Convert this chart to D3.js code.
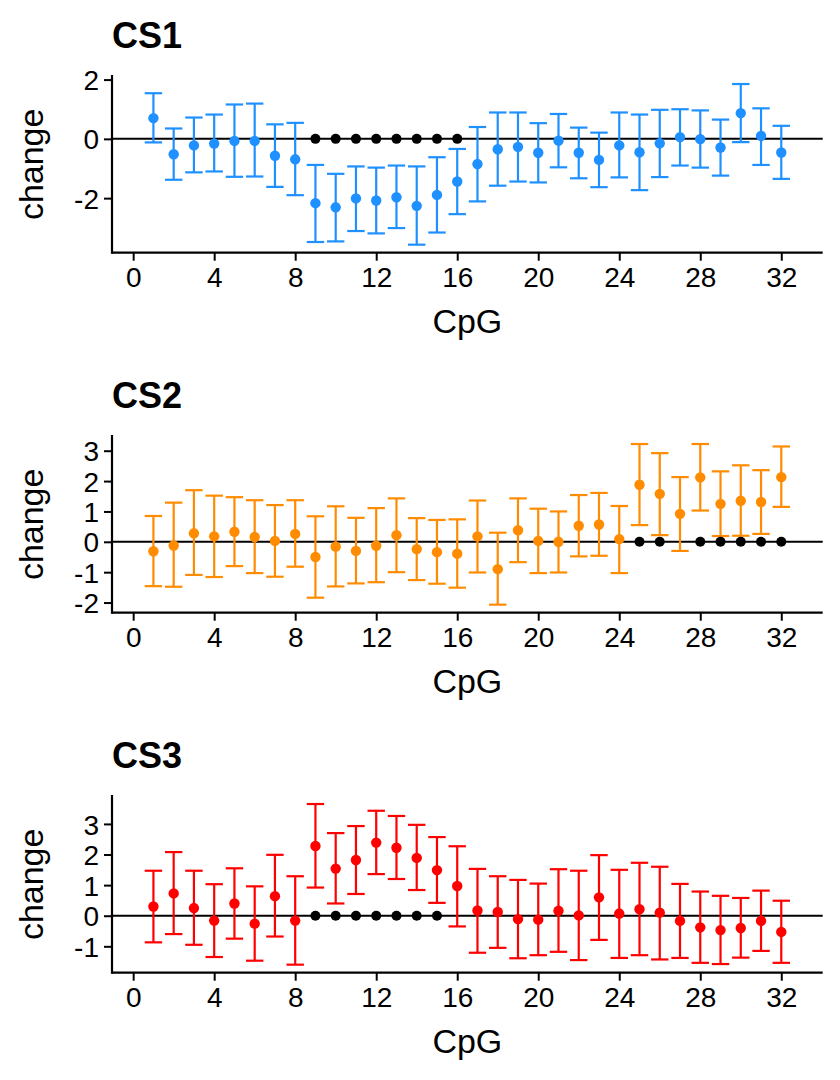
<!DOCTYPE html>
<html>
<head>
<meta charset="utf-8">
<script src="https://cdn.jsdelivr.net/npm/d3@7"></script>
<style>
  html, body { margin: 0; padding: 0; background: #fff; }
  svg { display: block; font-family: "Liberation Sans", Arial, Helvetica, sans-serif; }
</style>
</head>
<body>
<svg id="chart" width="840" height="1080"></svg>
<script>
const cpg = d3.range(1, 33);
const xTicks = [0, 4, 8, 12, 16, 20, 24, 28, 32];
const panelTitles = ["CS1", "CS2", "CS3"];
const panelColors = ["#1E90FF", "#FF8C00", "#FF0000"];
const yTicks1 = [-2, 0, 2];
const yTicks2 = [-2, -1, 0, 1, 2, 3];
const yTicks3 = [-1, 0, 1, 2, 3];

const cs1_mean  = [0.70,-0.52,-0.22,-0.16,-0.07,-0.07,-0.57,-0.69,-2.17,-2.31,-2.01,-2.08,-1.97,-2.26,-1.89,-1.44,-0.85,-0.35,-0.27,-0.47,-0.06,-0.47,-0.71,-0.22,-0.45,-0.15,0.06,-0.01,-0.29,0.87,0.10,-0.46];
const cs1_lower = [-0.12,-1.38,-1.13,-1.10,-1.28,-1.27,-1.62,-1.90,-3.48,-3.46,-3.11,-3.19,-3.01,-3.57,-3.16,-2.54,-2.11,-1.58,-1.44,-1.47,-0.96,-1.33,-1.63,-1.30,-1.73,-1.29,-0.90,-0.97,-1.24,-0.11,-0.88,-1.35];
const cs1_upper = [1.54,0.35,0.72,0.82,1.16,1.19,0.49,0.54,-0.88,-1.18,-0.93,-0.97,-0.90,-0.93,-0.62,-0.34,0.40,0.89,0.89,0.53,0.84,0.38,0.21,0.89,0.82,0.98,1.00,0.96,0.65,1.85,1.03,0.44];
const cs1_signif = [9, 10, 11, 12, 13, 14, 15, 16];

const cs2_mean  = [-0.31,-0.12,0.28,0.18,0.33,0.16,0.03,0.26,-0.50,-0.16,-0.30,-0.13,0.22,-0.24,-0.34,-0.39,0.18,-0.90,0.38,0.03,0.00,0.53,0.57,0.09,1.88,1.58,0.92,2.12,1.25,1.35,1.31,2.13];
const cs2_lower = [-1.46,-1.48,-1.09,-1.16,-0.80,-1.03,-1.15,-0.82,-1.84,-1.47,-1.37,-1.33,-1.00,-1.26,-1.38,-1.51,-1.01,-2.07,-0.67,-1.03,-1.01,-0.48,-0.46,-1.03,0.55,0.22,-0.30,1.03,0.19,0.20,0.26,1.15];
const cs2_upper = [0.85,1.29,1.70,1.52,1.47,1.37,1.21,1.37,0.84,1.17,0.79,1.11,1.43,0.78,0.72,0.74,1.36,0.30,1.43,1.09,1.00,1.54,1.61,1.18,3.22,2.92,2.13,3.22,2.32,2.52,2.36,3.14];
const cs2_signif = [25, 26, 28, 29, 30, 31, 32];

const cs3_mean  = [0.30,0.73,0.25,-0.16,0.40,-0.26,0.64,-0.16,2.28,1.54,1.82,2.39,2.22,1.89,1.49,0.97,0.17,0.12,-0.11,-0.13,0.16,0.01,0.60,0.07,0.21,0.10,-0.17,-0.38,-0.47,-0.40,-0.17,-0.53];
const cs3_lower = [-0.87,-0.60,-0.95,-1.35,-0.75,-1.47,-0.68,-1.60,0.92,0.40,0.71,1.36,1.20,0.84,0.42,-0.35,-1.21,-1.05,-1.39,-1.29,-1.18,-1.45,-0.79,-1.38,-1.29,-1.43,-1.38,-1.54,-1.58,-1.37,-1.15,-1.54];
const cs3_upper = [1.47,2.08,1.47,1.03,1.55,0.96,1.99,1.29,3.65,2.70,2.93,3.43,3.26,2.97,2.57,2.27,1.53,1.29,1.17,1.05,1.52,1.47,1.98,1.50,1.73,1.60,1.04,0.79,0.65,0.58,0.82,0.49];
const cs3_signif = [9, 10, 11, 12, 13, 14, 15];

const panels = [
  { title: panelTitles[0], color: panelColors[0], mean: cs1_mean, lower: cs1_lower, upper: cs1_upper, signif: cs1_signif, yTicks: yTicks1 },
  { title: panelTitles[1], color: panelColors[1], mean: cs2_mean, lower: cs2_lower, upper: cs2_upper, signif: cs2_signif, yTicks: yTicks2 },
  { title: panelTitles[2], color: panelColors[2], mean: cs3_mean, lower: cs3_lower, upper: cs3_upper, signif: cs3_signif, yTicks: yTicks3 }
];

const svg = d3.select("#chart");
const left = 112, right = 822.7;
const panelTop = 76, panelBottom = 252.7, panelStep = 360;
const halfW = 0.45;
const fmt = d => String(d); // plain hyphen-minus, no decimals

function expand(lo, hi) { const d = (hi - lo) * 0.05; return [lo - d, hi + d]; }

const x = d3.scaleLinear()
  .domain(expand(d3.min(cpg) - halfW, d3.max(cpg) + halfW))
  .range([left, right]);

panels.forEach((p, i) => {
  const off = i * panelStep;
  const g = svg.append("g").attr("transform", `translate(0,${off})`);
  const y = d3.scaleLinear()
    .domain(expand(d3.min(p.lower), d3.max(p.upper)))
    .range([panelBottom, panelTop]);

  g.append("text")
    .attr("x", left).attr("y", 47.7)
    .attr("font-size", 36).attr("font-weight", "bold")
    .attr("fill", "#000").text(p.title);

  g.append("line")
    .attr("x1", left).attr("x2", right)
    .attr("y1", y(0)).attr("y2", y(0))
    .attr("stroke", "#000").attr("stroke-width", 2);

  const rows = cpg.map((c, k) => ({ c, m: p.mean[k], lo: p.lower[k], hi: p.upper[k] }));

  const eb = g.append("g").attr("stroke", p.color).attr("stroke-width", 2.2).attr("fill", "none");
  rows.forEach(r => {
    eb.append("line").attr("x1", x(r.c)).attr("x2", x(r.c)).attr("y1", y(r.lo)).attr("y2", y(r.hi));
    eb.append("line").attr("x1", x(r.c - 0.43)).attr("x2", x(r.c + 0.43)).attr("y1", y(r.lo)).attr("y2", y(r.lo));
    eb.append("line").attr("x1", x(r.c - 0.43)).attr("x2", x(r.c + 0.43)).attr("y1", y(r.hi)).attr("y2", y(r.hi));
  });

  g.append("g").selectAll("circle").data(rows).join("circle")
    .attr("cx", r => x(r.c)).attr("cy", r => y(r.m)).attr("r", 5.2)
    .attr("fill", p.color);

  g.append("g").selectAll("circle").data(p.signif).join("circle")
    .attr("cx", c => x(c)).attr("cy", y(0)).attr("r", 5)
    .attr("fill", "#000");

  const xAxis = d3.axisBottom(x).tickValues(xTicks).tickFormat(fmt).tickSize(8).tickPadding(6).tickSizeOuter(0);
  const xg = g.append("g").attr("transform", `translate(0,${panelBottom})`).call(xAxis);
  const yAxis = d3.axisLeft(y).tickValues(p.yTicks).tickFormat(fmt).tickSize(8).tickPadding(5).tickSizeOuter(0);
  const yg = g.append("g").attr("transform", `translate(${left},0)`).call(yAxis);
  [xg, yg].forEach(a => {
    a.select(".domain").remove();
    a.selectAll(".tick line").attr("stroke", "#000").attr("stroke-width", 2);
    a.selectAll(".tick text").attr("font-size", 28).attr("fill", "#000")
      .attr("font-family", "'Liberation Sans', Arial, sans-serif");
  });
  yg.selectAll(".tick text").attr("dy", "0.36em");
  xg.selectAll(".tick text").attr("dy", "0.71em");

  g.append("line").attr("x1", left).attr("x2", right).attr("y1", panelBottom).attr("y2", panelBottom)
    .attr("stroke", "#000").attr("stroke-width", 2.2);
  g.append("line").attr("x1", left).attr("x2", left).attr("y1", panelTop - 1).attr("y2", panelBottom + 1.1)
    .attr("stroke", "#000").attr("stroke-width", 2.2);

  g.append("text")
    .attr("x", (left + right) / 2).attr("y", 333.3)
    .attr("text-anchor", "middle").attr("font-size", 34).attr("fill", "#000").text("CpG");
  g.append("text")
    .attr("transform", `translate(43,${(panelTop + panelBottom) / 2}) rotate(-90)`)
    .attr("text-anchor", "middle").attr("font-size", 34).attr("fill", "#000").text("change");
});
</script>
</body>
</html>
